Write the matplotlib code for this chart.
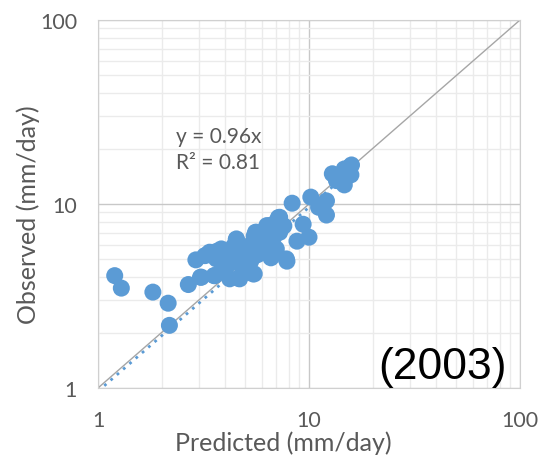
import matplotlib.pyplot as plt
import numpy as np
from matplotlib.ticker import FixedLocator, NullFormatter

# predicted vs observed (mm/day)
predicted = [
    1.20, 1.29, 1.82, 2.15, 2.18, 2.68, 3.06, 2.91, 3.55, 3.21,
    3.66, 4.52, 5.50, 4.62, 5.58, 6.31, 7.16, 8.32, 7.86, 8.77,
    9.38, 10.0, 10.2, 11.1, 12.1, 12.1, 12.9, 14.7, 15.9, 14.7,
    15.8, 3.09, 3.57, 3.38, 3.84, 4.53, 5.63, 6.51, 7.26, 7.81,
    5.43, 4.69, 4.21, 3.91, 5.05, 6.05, 7.00, 5.24, 5.84, 4.36,
    3.64, 7.26, 6.75, 4.00, 4.80, 5.20, 4.40, 6.30, 6.90, 5.00,
    3.30, 4.70, 6.60, 5.50, 7.00, 7.60, 4.10, 15.2, 13.5, 15.6,
    4.30, 4.90, 5.30, 3.80, 6.00, 5.70, 4.60, 5.90,
]
observed = [
    4.08, 3.49, 3.32, 2.89, 2.19, 3.65, 4.00, 4.97, 4.08, 5.24,
    5.54, 6.40, 4.17, 3.95, 7.02, 7.63, 8.43, 10.1, 4.89, 6.28,
    7.76, 6.60, 10.9, 9.60, 10.4, 8.71, 14.6, 12.7, 16.3, 15.5,
    14.4, 4.00, 4.08, 5.47, 5.70, 6.46, 7.02, 7.63, 8.47, 5.03,
    4.17, 3.92, 3.92, 4.63, 5.03, 5.47, 5.70, 5.95, 6.19, 5.14,
    5.03, 7.02, 6.46, 4.50, 4.60, 5.50, 5.90, 6.60, 7.30, 4.30,
    5.30, 5.60, 5.10, 6.70, 8.00, 7.60, 5.40, 15.0, 13.4, 15.9,
    4.80, 5.80, 4.90, 5.00, 6.40, 5.30, 5.30, 5.60,
]
slope = 0.96
eq_text = "y = 0.96x\nR² = 0.81"
year_label = "(2003)"

BLUE = "#5B9BD5"
GREY_TXT = "#595959"

fig = plt.figure(figsize=(5.43, 4.56), dpi=100)
ax = fig.add_axes([98 / 543, 1 - 389 / 456, 422 / 543, 368 / 456])
ax.set_xscale("log")
ax.set_yscale("log")
ax.set_xlim(1, 100)
ax.set_ylim(1, 100)

minor = [m * d for d in (1, 10) for m in range(2, 10)]
ax.xaxis.set_minor_locator(FixedLocator(minor))
ax.yaxis.set_minor_locator(FixedLocator(minor))
ax.xaxis.set_minor_formatter(NullFormatter())
ax.yaxis.set_minor_formatter(NullFormatter())
ax.set_xticks([1, 10, 100])
ax.set_yticks([1, 10, 100])
ax.set_xticklabels(["1", "10", "100"])
ax.set_yticklabels(["1", "10", "100"])
ax.grid(which="minor", color="#EBEBEB", lw=1)
ax.grid(which="major", color="#C8C8C8", lw=1)
ax.set_axisbelow(True)
ax.tick_params(which="both", length=0)
ax.tick_params(labelsize=15.5, labelcolor=GREY_TXT)
ax.tick_params(axis="y", pad=15)
ax.tick_params(axis="x", pad=16)
for lab in ax.get_xticklabels() + ax.get_yticklabels():
    lab.set_family("Lato")
for s in ax.spines.values():
    s.set_color("#D0D0D0")

# 1:1 line and fitted trend line
ax.plot([1, 100], [1, 100], color="#A6A6A6", lw=1, zorder=2)
xt = np.array([1.0, max(predicted)])
ax.plot(xt, slope * xt, color=BLUE, lw=2, ls=(0, (1, 2)), zorder=2)

ax.scatter(predicted, observed, s=150, color=BLUE, edgecolors="none", zorder=3)

ax.text((176 - 98) / 422, (389 - 150) / 368, eq_text, transform=ax.transAxes,
        fontsize=15, color=GREY_TXT, family="Lato", va="center", ha="left",
        linespacing=1.4)
ax.text(0.969, 0.058, year_label, transform=ax.transAxes, fontsize=32,
        color="black", family="Liberation Sans", ha="right", va="center")

fig.text(283 / 543, 1 - 443 / 456, "Predicted (mm/day)", fontsize=18,
         color=GREY_TXT, family="Lato", ha="center", va="center")
fig.text(28 / 543, 1 - 215 / 456, "Observed (mm/day)", fontsize=18,
         color=GREY_TXT, family="Lato", ha="center", va="center", rotation=90)

fig.savefig("out.png", dpi=100)
